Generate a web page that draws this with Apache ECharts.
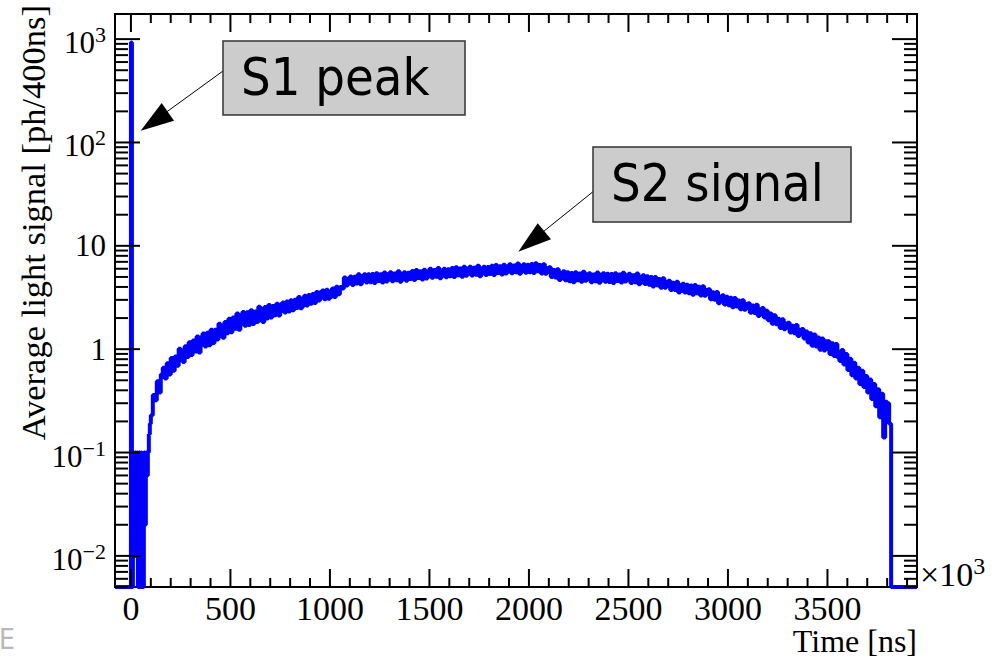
<!DOCTYPE html>
<html>
<head>
<meta charset="utf-8">
<script src="https://cdn.jsdelivr.net/npm/echarts@6/dist/echarts.min.js"></script>
<style>
html, body { margin: 0; padding: 0; background: #fff; }
#main { width: 997px; height: 660px; }
</style>
</head>
<body>
<div id="main"></div>
<script>
// time axis is in units of 10^3 ns
var xMin = -80, xMax = 3950;
var yMin = 0.005, yMax = 1750;
var binWidth = 10;

// S1 peak and the sparse region right after it (0 = empty bin)
var s1Times  = [-80, 0, 5, 10, 15, 20, 25, 30, 35, 40, 45, 50, 55, 60, 65, 70, 75, 80, 85, 90, 95];
var s1Values = [0, 930, 0, 0.1, 0.01, 0.1, 0.05, 0.1, 0, 0.1, 0, 0.1, 0.01, 0, 0.1, 0.02, 0.1, 0.06, 0.1, 0.15, 0.19];

// S2 signal, bins of 10 starting at each segment start
var riseStart = 100;
var riseValues = [
  0.23, 0.36, 0.32, 0.49, 0.38, 0.57, 0.66, 0.52, 0.73, 0.57,
  0.82, 0.62, 0.85, 0.69, 1.01, 0.78, 0.75, 1.07, 0.84, 1.17,
  0.88, 1.21, 0.95, 1.33, 0.93, 1.31, 1.42, 1.06, 1.44, 1.09,
  1.54, 1.15, 1.54, 1.24, 1.76, 1.36, 1.29, 1.83, 1.43, 1.97,
  1.46, 2.02, 1.58, 2.21, 1.54, 2.14, 2.29, 1.69, 2.28, 1.71,
  2.38, 1.75, 2.31, 1.83, 2.58, 1.96, 1.83, 2.56, 1.98, 2.67,
  2.02, 2.62, 2.13, 2.75, 2.12, 2.72, 2.83, 2.26, 2.89, 2.31,
  2.98, 2.38, 3.01, 2.50, 3.19, 2.49, 2.61, 3.29, 2.65, 3.35,
  2.75, 3.41, 2.80, 3.58, 2.95, 3.58, 3.70, 3.04, 3.76, 3.08];
var plateauStart = 1000;
var plateauValues = [
  3.19, 3.86, 3.19, 4.02, 3.40, 4.00, 3.87, 4.93, 4.14, 4.82,
  5.06, 4.18, 5.01, 4.33, 5.31, 4.25, 5.04, 5.31, 4.41, 5.31,
  4.45, 5.34, 4.36, 5.44, 4.56, 5.30, 4.41, 5.51, 4.51, 5.28,
  5.56, 4.55, 5.40, 4.65, 5.66, 4.49, 5.30, 5.56, 4.60, 5.50,
  4.77, 5.71, 4.66, 5.82, 4.87, 5.66, 4.72, 5.87, 4.82, 5.55,
  6.00, 4.91, 5.83, 5.01, 6.10, 4.85, 5.72, 6.00, 4.96, 5.94,
  5.09, 6.09, 4.98, 6.20, 5.20, 6.04, 5.03, 6.26, 5.14, 5.93,
  6.29, 5.15, 6.12, 5.26, 6.41, 5.09, 6.01, 6.29, 5.21, 6.23,
  5.34, 6.40, 5.22, 6.52, 5.46, 6.34, 5.28, 6.57, 5.40, 6.22,
  6.62, 5.42, 6.44, 5.54, 6.74, 5.36, 6.32, 6.62, 5.48, 6.56];
var descentStart = 2000;
var descentValues = [
  5.55, 6.66, 5.45, 6.78, 5.67, 6.53, 5.40, 6.64, 5.38, 6.10,
  6.22, 5.00, 5.83, 4.95, 5.94, 4.67, 5.46, 5.67, 4.64, 5.54,
  4.55, 5.45, 4.45, 5.55, 4.65, 5.40, 4.50, 5.60, 4.60, 5.30,
  5.42, 4.44, 5.28, 4.54, 5.52, 4.39, 5.18, 5.42, 4.49, 5.37,
  4.46, 5.34, 4.36, 5.44, 4.56, 5.29, 4.41, 5.49, 4.51, 5.19,
  5.37, 4.38, 5.20, 4.45, 5.40, 4.26, 5.00, 5.20, 4.28, 5.08,
  4.20, 4.99, 4.04, 5.00, 4.15, 4.77, 3.94, 4.85, 3.94, 4.48,
  4.60, 3.73, 4.39, 3.74, 4.50, 3.54, 4.15, 4.30, 3.53, 4.20,
  3.48, 4.14, 3.36, 4.17, 3.48, 4.01, 3.31, 4.07, 3.29, 3.73,
  3.80, 3.04, 3.55, 3.00, 3.58, 2.79, 3.23, 3.33, 2.71, 3.22];
var fallStart = 3000;
var fallValues = [
  2.66, 3.14, 2.54, 3.12, 2.59, 2.96, 2.43, 2.98, 2.41, 2.73,
  2.79, 2.25, 2.64, 2.24, 2.69, 2.10, 2.44, 2.50, 2.02, 2.35,
  1.91, 2.22, 1.76, 2.13, 1.74, 1.97, 1.60, 1.95, 1.56, 1.77,
  1.80, 1.45, 1.69, 1.43, 1.71, 1.34, 1.54, 1.57, 1.27, 1.48,
  1.16, 1.43, 1.08, 1.39, 1.06, 1.30, 0.99, 1.27, 0.97, 1.19,
  1.20, 0.90, 1.14, 0.86, 1.12, 0.83, 0.77, 0.98, 0.71, 0.90,
  0.63, 0.81, 0.56, 0.74, 0.52, 0.66, 0.46, 0.62, 0.43, 0.55,
  0.38, 0.51, 0.33, 0.46, 0.28, 0.41, 0.22, 0.37, 0.14, 0.31,
  0.30, 0.19];
var tailTimes = [3820, 3950];
var tailValues = [0, 0];

// ticks
var xMajorTicks = [0, 500, 1000, 1500, 2000, 2500, 3000, 3500];
var xMinorTicks = [100, 200, 300, 400, 600, 700, 800, 900, 1100, 1200, 1300, 1400, 1600, 1700, 1800, 1900,
  2100, 2200, 2300, 2400, 2600, 2700, 2800, 2900, 3100, 3200, 3300, 3400, 3600, 3700, 3800, 3900];
var yMajorTicks = [0.01, 0.1, 1, 10, 100, 1000];
var yDecades = [0.001, 0.01, 0.1, 1, 10, 100];
var yMinorSteps = [2, 3, 4, 5, 6, 7, 8, 9];

var serif = 'Liberation Serif';
var sans = 'DejaVu Sans Condensed, DejaVu Sans';

// empty bins sit on the bottom of the frame like in ROOT
function floorVal(v) { return v > 0 ? v : yMin; }

var points = [];
s1Times.forEach(function (t, i) { points.push([t, floorVal(s1Values[i])]); });
function addBins(start, values) {
  values.forEach(function (v, i) { points.push([start + i * binWidth, floorVal(v)]); });
}
addBins(riseStart, riseValues);
addBins(plateauStart, plateauValues);
addBins(descentStart, descentValues);
addBins(fallStart, fallValues);
tailTimes.forEach(function (t, i) { points.push([t, floorVal(tailValues[i])]); });

var yMinorTicks = [];
yDecades.forEach(function (d) {
  yMinorSteps.forEach(function (k) {
    var v = +(d * k).toPrecision(3);
    if (v >= yMin && v <= yMax) yMinorTicks.push(v);
  });
});

function xTickSeries(ticks, len) {
  return {
    type: 'custom', z: 5, silent: true,
    data: ticks.map(function (v) { return [v, yMin]; }),
    renderItem: function (params, api) {
      var v = api.value(0);
      var b = api.coord([v, yMin]), t = api.coord([v, yMax]);
      var st = { stroke: '#000', lineWidth: 2 };
      return { type: 'group', children: [
        { type: 'line', shape: { x1: b[0], y1: b[1], x2: b[0], y2: b[1] - len }, style: st },
        { type: 'line', shape: { x1: t[0], y1: t[1], x2: t[0], y2: t[1] + len }, style: st }
      ] };
    }
  };
}
function yTickSeries(ticks, len) {
  return {
    type: 'custom', z: 5, silent: true,
    data: ticks.map(function (v) { return [xMin, v]; }),
    renderItem: function (params, api) {
      var v = api.value(1);
      var l = api.coord([xMin, v]), r = api.coord([xMax, v]);
      var st = { stroke: '#000', lineWidth: 2 };
      return { type: 'group', children: [
        { type: 'line', shape: { x1: l[0], y1: l[1], x2: l[0] + len, y2: l[1] }, style: st },
        { type: 'line', shape: { x1: r[0], y1: r[1], x2: r[0] - len, y2: r[1] }, style: st }
      ] };
    }
  };
}

var supRich = {
  b: { fontFamily: serif, fontSize: 31, lineHeight: 31, color: '#000', padding: [7, 0, 0, 0] },
  sup: { fontFamily: serif, fontSize: 22, lineHeight: 22, color: '#000', padding: [0, 0, 9, 0] }
};
var multRich = {
  b: { fontFamily: serif, fontSize: 34, lineHeight: 34, fill: '#000', padding: [7, 0, 0, 0] },
  sup: { fontFamily: serif, fontSize: 24, lineHeight: 24, fill: '#000', padding: [0, 0, 10, 0] }
};

function yLabel(v) {
  var e = Math.log(v) / Math.LN10;
  var n = Math.round(e);
  if (Math.abs(e - n) > 1e-6) return '';
  if (n === 0) return '1';
  if (n === 1) return '10';
  return '{b|10}{sup|' + (n < 0 ? '\u2212' + (-n) : n) + '}';
}

var chart = echarts.init(document.getElementById('main'), null, { renderer: 'svg' });
chart.setOption({
  animation: false,
  backgroundColor: '#fff',
  grid: { left: 115, right: 80, top: 14, bottom: 73, show: true, borderColor: '#000', borderWidth: 2, backgroundColor: 'transparent' },
  xAxis: {
    type: 'value', min: xMin, max: xMax, interval: 10,
    axisLine: { show: false }, axisTick: { show: false }, splitLine: { show: false },
    axisLabel: {
      margin: 4, fontFamily: serif, fontSize: 34, color: '#000',
      formatter: function (v) { return (Math.round(v) % 500 === 0) ? String(Math.round(v)) : ''; }
    }
  },
  yAxis: {
    type: 'log', logBase: 10, min: yMin, max: yMax,
    axisLine: { show: false }, axisTick: { show: false }, splitLine: { show: false },
    axisLabel: { margin: 9, fontFamily: serif, fontSize: 31, color: '#000', formatter: yLabel, rich: supRich }
  },
  series: [
    {
      type: 'line', data: points, step: 'end', showSymbol: false, clip: true, z: 2,
      lineStyle: { color: '#0000ff', width: 4 }, itemStyle: { color: '#0000ff' }
    },
    xTickSeries(xMajorTicks, 18),
    xTickSeries(xMinorTicks, 9),
    yTickSeries(yMajorTicks, 25),
    yTickSeries(yMinorTicks, 13)
  ],
  graphic: [
    { type: 'text', x: 33, y: 5, rotation: Math.PI / 2,
      style: { text: 'Average light signal [ph/400ns]', fontFamily: serif, fontSize: 34.5, fill: '#000', align: 'right', verticalAlign: 'middle' } },
    { type: 'text', x: 917, y: 641,
      style: { text: 'Time [ns]', fontFamily: serif, fontSize: 32, fill: '#000', align: 'right', verticalAlign: 'middle' } },
    { type: 'text', x: 920, y: 571,
      style: { text: '{b|\u00d710}{sup|3}', rich: multRich, align: 'left', verticalAlign: 'middle' } },
    // S1 annotation
    { type: 'line', shape: { x1: 223, y1: 71, x2: 150, y2: 124 }, style: { stroke: '#000', lineWidth: 1 } },
    { type: 'polygon', shape: { points: [[140.7, 130.7], [161.7, 103], [174, 120.7]] }, style: { fill: '#000' } },
    { type: 'rect', shape: { x: 223, y: 41, width: 242, height: 74 }, style: { fill: '#cccccc', stroke: '#333', lineWidth: 1.5 } },
    { type: 'text', x: 241, y: 77, style: { text: 'S1 peak', fontFamily: sans, fontSize: 52, fill: '#000', align: 'left', verticalAlign: 'middle' } },
    // S2 annotation
    { type: 'line', shape: { x1: 593, y1: 191.7, x2: 528, y2: 244 }, style: { stroke: '#000', lineWidth: 1 } },
    { type: 'polygon', shape: { points: [[518.3, 251.7], [537.7, 223.3], [551, 239.3]] }, style: { fill: '#000' } },
    { type: 'rect', shape: { x: 593, y: 147, width: 258, height: 75 }, style: { fill: '#cccccc', stroke: '#333', lineWidth: 1.5 } },
    { type: 'text', x: 611, y: 183, style: { text: 'S2 signal', fontFamily: sans, fontSize: 52, fill: '#000', align: 'left', verticalAlign: 'middle' } },
    { type: 'text', x: -1, y: 639, style: { text: 'E', fontFamily: sans, fontSize: 28, fill: '#b8b8b8', align: 'left', verticalAlign: 'middle' } }
  ]
});
</script>
</body>
</html>
